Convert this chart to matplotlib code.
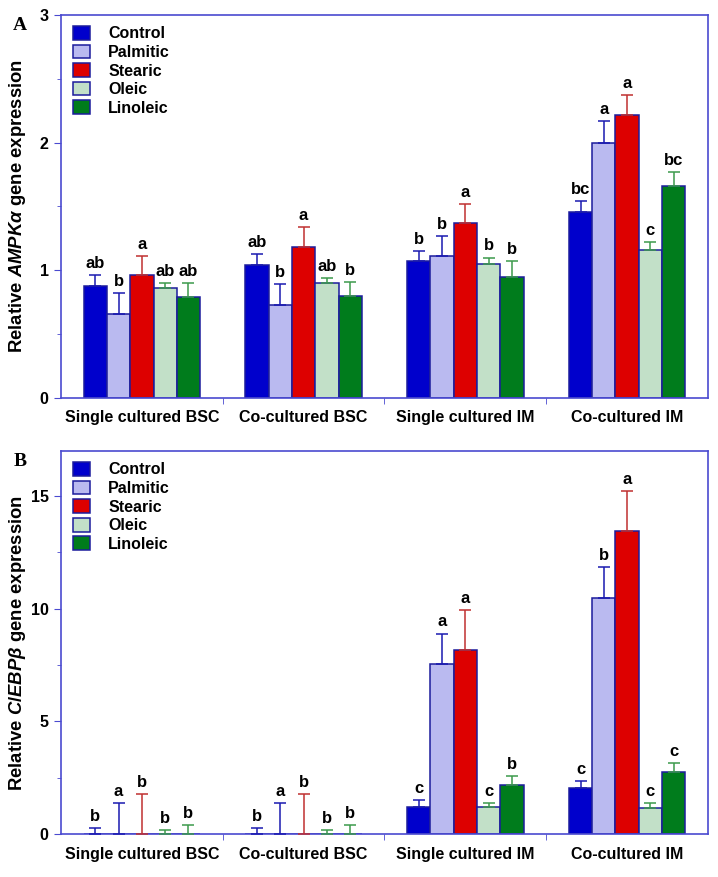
import numpy as np
import matplotlib
matplotlib.use("Agg")
import matplotlib.pyplot as plt
from matplotlib.ticker import MultipleLocator, FixedLocator

plt.rcParams['font.family'] = ['Liberation Sans', 'DejaVu Sans']
plt.rcParams['mathtext.fontset'] = 'custom'
plt.rcParams['mathtext.rm'] = 'Liberation Sans:bold'
plt.rcParams['mathtext.it'] = 'Liberation Sans:italic:bold'
plt.rcParams['mathtext.bf'] = 'Liberation Sans:bold'

# groups and treatments
groups = ["Single cultured BSC", "Co-cultured BSC", "Single cultured IM", "Co-cultured IM"]
treatments = ["Control", "Palmitic", "Stearic", "Oleic", "Linoleic"]
bar_colors = ["#0000cc", "#babaf0", "#dd0000", "#c2e0c8", "#007c1c"]
err_colors = ["#1a1ab0", "#1a1ab0", "#c03030", "#3c9a4c", "#3c9a4c"]

# panel A: AMPKa (rows = treatments, cols = groups)
ampk_mean = [
    [0.88, 1.04, 1.07, 1.46],
    [0.66, 0.73, 1.11, 2.00],
    [0.96, 1.18, 1.37, 2.22],
    [0.86, 0.90, 1.05, 1.16],
    [0.79, 0.80, 0.95, 1.66],
]
ampk_err = [
    [0.08, 0.09, 0.08, 0.08],
    [0.16, 0.16, 0.16, 0.17],
    [0.15, 0.16, 0.15, 0.15],
    [0.04, 0.04, 0.05, 0.06],
    [0.11, 0.11, 0.12, 0.11],
]
ampk_letters = [
    ["ab", "ab", "b", "bc"],
    ["b", "b", "b", "a"],
    ["a", "a", "a", "a"],
    ["ab", "ab", "b", "c"],
    ["ab", "b", "b", "bc"],
]

# panel B: C/EBPb
cebp_mean = [
    [0.0, 0.0, 1.22, 2.05],
    [0.0, 0.0, 7.53, 10.48],
    [0.0, 0.0, 8.18, 13.47],
    [0.0, 0.0, 1.22, 1.17],
    [0.0, 0.0, 2.18, 2.76],
]
cebp_err = [
    [0.27, 0.27, 0.30, 0.30],
    [1.37, 1.37, 1.37, 1.38],
    [1.79, 1.79, 1.77, 1.77],
    [0.19, 0.19, 0.15, 0.20],
    [0.40, 0.40, 0.41, 0.40],
]
cebp_letters = [
    ["b", "b", "c", "c"],
    ["a", "a", "a", "b"],
    ["b", "b", "a", "a"],
    ["b", "b", "c", "c"],
    ["b", "b", "b", "c"],
]

spine_col = "#4a4ad0"
fig = plt.figure(figsize=(7.18, 8.77), dpi=100)


def draw_panel(rect, means, errs, letters, ylim, major, minor, ylabel, tag):
    ax = fig.add_axes(rect)
    x = np.arange(len(groups))
    w = 0.144
    for j, name in enumerate(treatments):
        xs = x + (j - 2) * w
        m = np.array(means[j])
        e = np.array(errs[j])
        ax.bar(xs, m, w, color=bar_colors[j], edgecolor="#1c1c9c", linewidth=1.1,
               label=name, zorder=2)
        ax.errorbar(xs, m, yerr=[np.zeros_like(e), e], fmt="none", ecolor=err_colors[j],
                    elinewidth=1.1, capsize=4.5, capthick=1.1, zorder=3)
        for k in range(len(groups)):
            ax.annotate(letters[j][k], (xs[k], m[k] + e[k]), xytext=(0, 3),
                        textcoords="offset points", ha="center", va="bottom",
                        fontsize=12, fontweight="bold")
    ax.set_xlim(-0.5, len(groups) - 0.5)
    ax.set_ylim(*ylim)
    ax.yaxis.set_major_locator(MultipleLocator(major))
    ax.yaxis.set_minor_locator(MultipleLocator(minor))
    ax.set_xticks(x)
    ax.set_xticklabels(groups, fontsize=11.5, fontweight="bold")
    ax.xaxis.set_minor_locator(FixedLocator([0.5, 1.5, 2.5]))
    ax.tick_params(axis="x", which="major", length=0, pad=9)
    ax.tick_params(axis="x", which="minor", length=4, color=spine_col, direction="out")
    ax.tick_params(axis="y", which="major", length=5, color=spine_col, labelsize=11.5, pad=4)
    ax.tick_params(axis="y", which="minor", length=3, color=spine_col)
    for lab in ax.get_yticklabels():
        lab.set_fontweight("bold")
    for s in ax.spines.values():
        s.set_color(spine_col)
        s.set_linewidth(1.2)
    ax.set_ylabel(ylabel, fontsize=13.3, fontweight="bold", va="center")
    ax.yaxis.set_label_coords(-0.068, 0.5)
    ax.legend(loc="upper left", bbox_to_anchor=(0.0087, 0.988), borderaxespad=0,
              frameon=False, handlelength=1.05, handleheight=0.95, handletextpad=1.15,
              labelspacing=0.2, prop={"weight": "bold", "size": 11.5})
    fig.text(0.028, rect[1] + rect[3] - 0.012, tag, fontsize=14, fontweight="bold",
             family="Liberation Serif", ha="center", va="center")
    return ax


draw_panel([0.085, 0.5462, 0.901, 0.4367], ampk_mean, ampk_err, ampk_letters,
           (0, 3), 1, 0.5, r"Relative $\it{AMPK}\alpha$ gene expression", "A")
draw_panel([0.085, 0.049, 0.901, 0.4367], cebp_mean, cebp_err, cebp_letters,
           (0, 17), 5, 2.5, r"Relative $\it{C/EBP\beta}$ gene expression", "B")

fig.savefig("out.png", dpi=100)
